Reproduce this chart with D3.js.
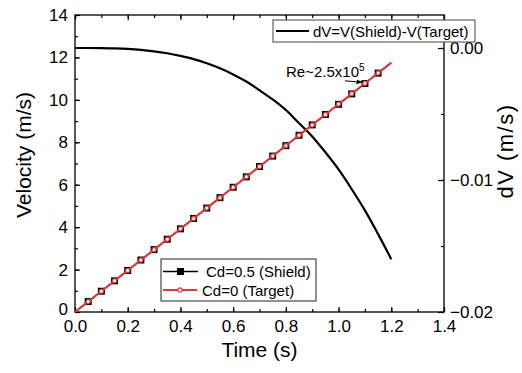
<!DOCTYPE html>
<html><head><meta charset="utf-8">
<script src="https://cdn.jsdelivr.net/npm/d3@7"></script>
<style>
body{margin:0;background:#fff;}
svg{display:block;font-family:"Liberation Sans",Arial,sans-serif;}
</style></head>
<body>
<svg id="c" width="522" height="373"></svg>
<script>
// ---- data ----
const time = [0,0.05,0.1,0.15,0.2,0.25,0.3,0.35,0.4,0.45,0.5,0.55,0.6,0.65,0.7,0.75,0.8,0.85,0.9,0.95,1.0,1.05,1.1,1.15,1.2];
const vShield = [0,0.49,0.98,1.47,1.96,2.45,2.94,3.43,3.92,4.41,4.90,5.39,5.88,6.37,6.86,7.35,7.84,8.33,8.82,9.31,9.79,10.28,10.77,11.26,11.74];
const vTarget = [0,0.49,0.98,1.47,1.96,2.45,2.94,3.43,3.92,4.41,4.90,5.39,5.88,6.37,6.86,7.35,7.84,8.33,8.82,9.31,9.80,10.29,10.78,11.27,11.76];
const dV = [0,-0.000001,-0.00001,-0.00003,-0.00007,-0.00014,-0.00025,-0.0004,-0.0006,-0.00084,-0.00116,-0.00154,-0.002,-0.00254,-0.0032,-0.0039,-0.0047,-0.0057,-0.0067,-0.0079,-0.0092,-0.0107,-0.0123,-0.0141,-0.016];
const xTicks = [0,0.2,0.4,0.6,0.8,1.0,1.2,1.4];
const yTicks = [0,2,4,6,8,10,12,14];
const y2Ticks = [-0.02,-0.01,0.00];
const legendTop = ["dV=V(Shield)-V(Target)"];
const legendBottom = ["Cd=0.5 (Shield)","Cd=0 (Target)"];
const annotation = {text:"Re~2.5x10", sup:"5", t:1.1};

// ---- layout ----
const L=75, R=444, T=15, B=312;
const svg = d3.select("#c");
const x = d3.scaleLinear().domain([0,1.4]).range([L,R]);
const y = d3.scaleLinear().domain([0,14]).range([B,T]);
const y2 = d3.scaleLinear().domain([-0.02,0.0025]).range([B,T]);
const FS = 17;

// minor ticks
const xMinor = d3.range(0,1.41,0.1).map(v=>+v.toFixed(2));
const yMinor = d3.range(0,14.1,1);
const y2Minor = [-0.02,-0.015,-0.01,-0.005,0];

function styleAxis(g){
  g.selectAll(".domain").remove();
  g.selectAll("line").attr("stroke","#000").attr("stroke-width",1.2);
  g.selectAll("text").attr("font-size",FS).attr("fill","#000").attr("font-family","Liberation Sans, Arial, sans-serif");
}
// bottom
svg.append("g").attr("transform",`translate(0,${B})`)
  .call(d3.axisBottom(x).tickValues(xMinor).tickSizeInner(-3).tickSizeOuter(0).tickFormat("")).call(styleAxis);
svg.append("g").attr("transform",`translate(0,${B})`)
  .call(d3.axisBottom(x).tickValues(xTicks).tickSizeInner(-5).tickSizeOuter(0).tickPadding(8).tickFormat(d3.format(".1f"))).call(styleAxis);
// top
svg.append("g").attr("transform",`translate(0,${T})`)
  .call(d3.axisTop(x).tickValues(xMinor).tickSizeInner(-3).tickSizeOuter(0).tickFormat("")).call(styleAxis);
svg.append("g").attr("transform",`translate(0,${T})`)
  .call(d3.axisTop(x).tickValues(xTicks).tickSizeInner(-5).tickSizeOuter(0).tickFormat("")).call(styleAxis);
// left
svg.append("g").attr("transform",`translate(${L},0)`)
  .call(d3.axisLeft(y).tickValues(yMinor).tickSizeInner(-3).tickSizeOuter(0).tickFormat("")).call(styleAxis);
const gl = svg.append("g").attr("transform",`translate(${L},0)`)
  .call(d3.axisLeft(y).tickValues(yTicks).tickSizeInner(-5).tickSizeOuter(0).tickPadding(7).tickFormat(d3.format("d"))).call(styleAxis);
gl.selectAll("text").filter(d=>d===0).attr("dy","0.15em");
// right
svg.append("g").attr("transform",`translate(${R},0)`)
  .call(d3.axisRight(y2).tickValues(y2Minor).tickSizeInner(-3).tickSizeOuter(0).tickFormat("")).call(styleAxis);
svg.append("g").attr("transform",`translate(${R},0)`)
  .call(d3.axisRight(y2).tickValues(y2Ticks).tickSizeInner(-6).tickSizeOuter(0).tickPadding(6).tickFormat(d3.format(".2f"))).call(styleAxis);

// frame
svg.append("rect").attr("x",L).attr("y",T).attr("width",R-L).attr("height",B-T)
  .attr("fill","none").attr("stroke","#000").attr("stroke-width",1.3);

// series lines
const idx = d3.range(time.length);
const lineS = d3.line().x(i=>x(time[i])).y(i=>y(vShield[i]));
const lineT = d3.line().x(i=>x(time[i])).y(i=>y(vTarget[i]));
const lineD = d3.line().x(i=>x(time[i])).y(i=>y2(dV[i])).curve(d3.curveCatmullRom);

svg.append("path").attr("d",lineD(idx)).attr("fill","none").attr("stroke","#000").attr("stroke-width",2.2);
svg.append("path").attr("d",lineS(idx)).attr("fill","none").attr("stroke","#000").attr("stroke-width",1.5);
const mk = idx.filter(i=>i>0 && i<time.length-1);
svg.append("g").selectAll("rect").data(mk).join("rect")
  .attr("x",i=>x(time[i])-3.5).attr("y",i=>y(vShield[i])-3.5).attr("width",7).attr("height",7).attr("fill","#000");
svg.append("path").attr("d",lineT(idx)).attr("fill","none").attr("stroke","#e03a3a").attr("stroke-width",2);
svg.append("g").selectAll("circle").data(mk).join("circle")
  .attr("cx",i=>x(time[i])).attr("cy",i=>y(vTarget[i])).attr("r",2.1)
  .attr("fill","#fff").attr("stroke","#e03a3a").attr("stroke-width",1.2);

// annotation
const ax = x(annotation.t), ay = y(vTarget[time.indexOf(annotation.t)]);
svg.append("defs").append("marker").attr("id","ah").attr("viewBox","0 0 10 10").attr("refX",9).attr("refY",5)
  .attr("markerWidth",6).attr("markerHeight",6).attr("orient","auto")
  .append("path").attr("d","M0,1 L10,5 L0,9 Z").attr("fill","#000");
svg.append("line").attr("x1",ax-20).attr("y1",ay-2.5).attr("x2",ax-3).attr("y2",ay-1)
  .attr("stroke","#000").attr("stroke-width",1).attr("marker-end","url(#ah)");
const at = svg.append("text").attr("x",286).attr("y",ay-6).attr("font-size",15).attr("fill","#000");
at.append("tspan").text(annotation.text);
at.append("tspan").attr("font-size",10).attr("dy",-6).text(annotation.sup);

// legend top
const lg1 = svg.append("g");
lg1.append("rect").attr("x",273).attr("y",20).attr("width",202).attr("height",22)
  .attr("fill","#fff").attr("stroke","#444").attr("stroke-width",1);
lg1.append("line").attr("x1",276).attr("x2",309).attr("y1",31).attr("y2",31).attr("stroke","#000").attr("stroke-width",2.2);
lg1.append("text").attr("x",313).attr("y",36.5).attr("font-size",15).text(legendTop[0]);

// legend bottom
const lg2 = svg.append("g");
lg2.append("rect").attr("x",161).attr("y",259).attr("width",155).attr("height",42)
  .attr("fill","#fff").attr("stroke","#222").attr("stroke-width",1);
lg2.append("line").attr("x1",163).attr("x2",198).attr("y1",271.5).attr("y2",271.5).attr("stroke","#000").attr("stroke-width",1.5);
lg2.append("rect").attr("x",177).attr("y",268).attr("width",7).attr("height",7).attr("fill","#000");
lg2.append("text").attr("x",206).attr("y",277).attr("font-size",15).text(legendBottom[0]);
lg2.append("line").attr("x1",163).attr("x2",197).attr("y1",290).attr("y2",290).attr("stroke","#e03a3a").attr("stroke-width",2);
lg2.append("circle").attr("cx",180).attr("cy",290).attr("r",2.1).attr("fill","#fff").attr("stroke","#e03a3a").attr("stroke-width",1.2);
lg2.append("text").attr("x",202).attr("y",295.5).attr("font-size",15).text(legendBottom[1]);

// axis titles
svg.append("text").attr("x",(L+R)/2).attr("y",357).attr("text-anchor","middle").attr("font-size",21).text("Time (s)");
svg.append("text").attr("transform","translate(30.5,155) rotate(-90)").attr("text-anchor","middle").attr("font-size",21).text("Velocity (m/s)");
svg.append("text").attr("transform","translate(513,151) rotate(-90)").attr("text-anchor","middle").attr("font-size",22).attr("letter-spacing",1.5).text("dV (m/s)");
</script>
</body></html>
